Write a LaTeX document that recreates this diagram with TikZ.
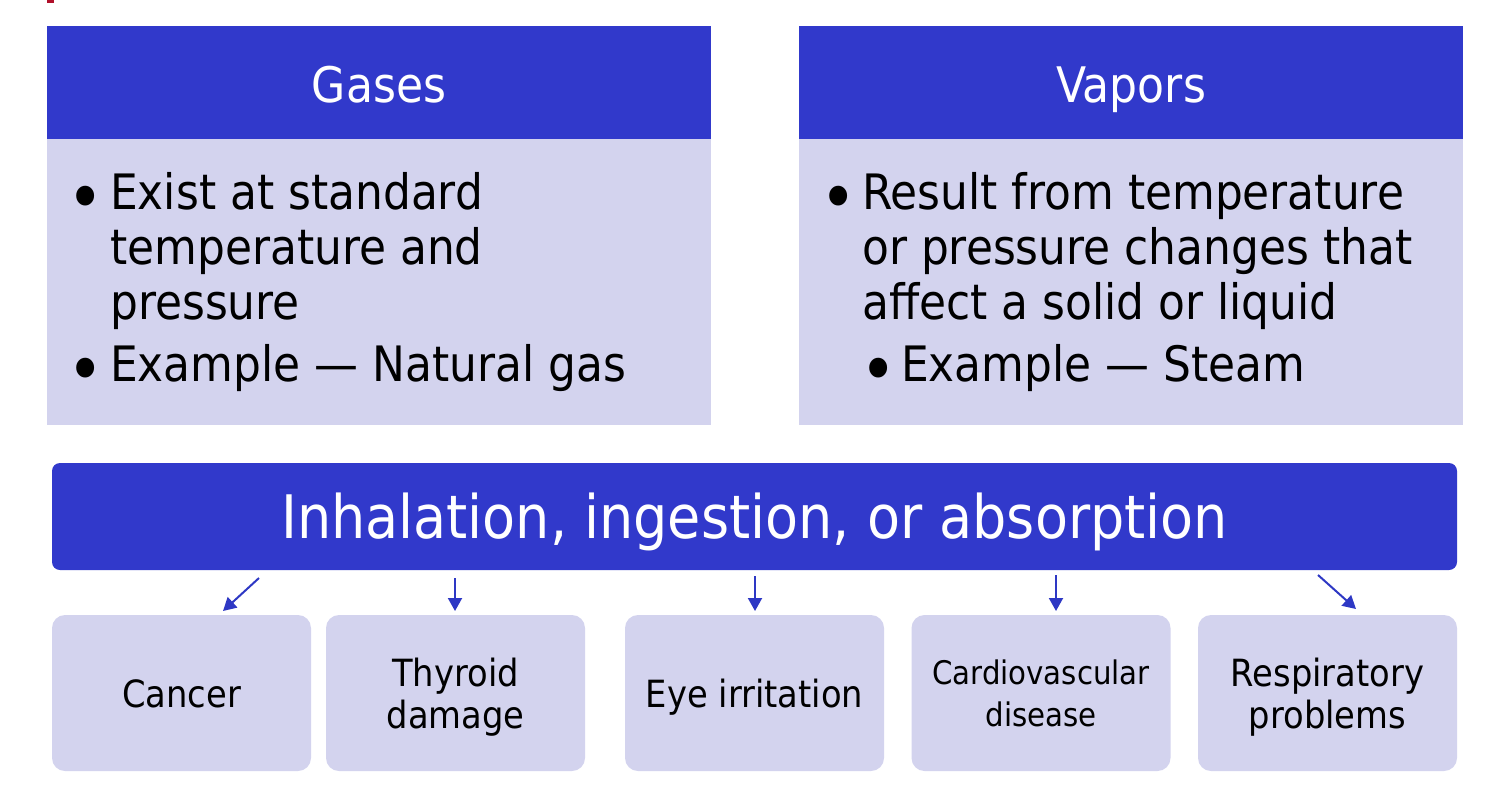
\documentclass[tikz,border=0pt]{standalone}
\usepackage{fontspec}
\setmainfont{DejaVu Sans}[FakeStretch=0.9]
\usetikzlibrary{arrows.meta}
\definecolor{hdrblue}{RGB}{49,57,203}
\definecolor{lav}{RGB}{211,211,238}
\definecolor{arrblue}{RGB}{46,56,196}
\definecolor{topmark}{RGB}{176,16,42}
\newcommand{\gbul}[1]{\makebox[#1][l]{\hspace*{-6pt}\raisebox{-12pt}{\scalebox{1.4}{•}}}}
\begin{document}
\begin{tikzpicture}[x=1pt,y=-1pt,
  hdr/.style={fill=hdrblue, draw=none, text=white, inner sep=0pt,
    minimum width=664pt, minimum height=113pt, text height=39pt, text depth=0pt,
    font=\fontsize{49}{54}\selectfont},
  bodybox/.style={fill=lav, draw=none, inner sep=0pt, anchor=north west,
    minimum width=664pt, minimum height=286pt},
  bodytext/.style={anchor=base west, align=left, inner sep=0pt,
    font=\fontsize{48.8}{55}\selectfont},
  banner/.style={fill=hdrblue, draw=none, text=white, rounded corners=8pt, inner sep=0pt,
    minimum width=1405pt, minimum height=107pt, text height=43pt, text depth=0pt,
    font=\fontsize{60}{66}\selectfont},
  effect/.style={fill=lav, draw=none, rounded corners=13pt, inner sep=0pt, align=center,
    minimum width=259pt, minimum height=156pt, font=\fontsize{37.5}{42}\selectfont},
  oneline/.style={text height=28pt, text depth=0pt},
  twoline/.style={text depth=0pt},
  conn/.style={draw=arrblue, line width=2pt, -{Triangle[length=13pt,width=14pt]}}]
\useasboundingbox (0,0) rectangle (1486,788);
\fill[topmark] (47,0) rectangle (54,3);

% headers and bodies
\node[hdr] (gh) at (379,82.5) {Gases};
\node[hdr] (vh) at (1131,82.5) {Vapors};
\node[bodybox] (gb) at (47,139) {};
\node[bodybox] (vb) at (799,139) {};

% base anchor = baseline of the last line
\node[bodytext] (gt) at (73,381) {%
  \gbul{37pt}Exist at standard\\
  \hspace*{37pt}temperature and\\
  \hspace*{37pt}pressure\\[7pt]
  \gbul{37pt}Example — Natural gas};
\node[bodytext] (vt) at (826,381) {%
  \gbul{36pt}Result from temperature\\
  \hspace*{36pt}or pressure changes that\\
  \hspace*{36pt}affect a solid or liquid\\[7pt]
  \hspace*{40pt}\gbul{35pt}Example — Steam};

% banner
\node[banner] (ban) at (754.5,516.5) {Inhalation, ingestion, or absorption};

% effects
\node[effect, oneline] (e1) at (181.5,693) {Cancer};
\node[effect, twoline] (e2) at (455.5,693) {Thyroid\\damage};
\node[effect, oneline] (e3) at (754.5,693) {Eye irritation};
\node[effect, twoline, font=\fontsize{32.5}{42}\selectfont] (e4) at (1041,693) {Cardiovascular\\disease};
\node[effect, twoline] (e5) at (1327.5,693) {Respiratory\\problems};

% arrows
\coordinate (a1) at (259,578); \coordinate (b1) at (223,611);
\coordinate (a2) at (455,578); \coordinate (b2) at (455,611);
\coordinate (a3) at (755,576); \coordinate (b3) at (755,611);
\coordinate (a4) at (1056,575); \coordinate (b4) at (1056,611);
\coordinate (a5) at (1318,575); \coordinate (b5) at (1356,609);
\draw[conn] (a1) -- (b1);
\draw[conn] (a2) -- (b2);
\draw[conn] (a3) -- (b3);
\draw[conn] (a4) -- (b4);
\draw[conn] (a5) -- (b5);
\end{tikzpicture}
\end{document}
